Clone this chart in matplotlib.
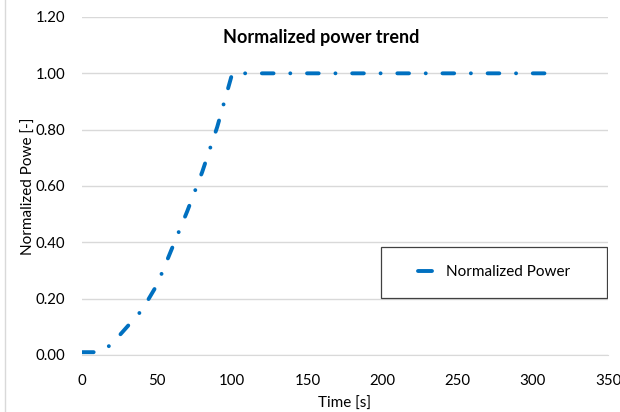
import matplotlib
matplotlib.use("Agg")
import matplotlib.pyplot as plt
from matplotlib.lines import Line2D
from matplotlib.patches import Rectangle

# values
time_s = [0, 5, 10, 15, 20, 30, 40, 50, 60, 70, 80, 90, 100,
          150, 200, 250, 300, 315]
norm_power = [0.01, 0.01, 0.01, 0.02, 0.04, 0.10, 0.16, 0.25, 0.38, 0.51,
              0.65, 0.81, 1.00, 1.00, 1.00, 1.00, 1.00, 1.00]
x_ticks = [0, 50, 100, 150, 200, 250, 300, 350]
y_ticks = [0.0, 0.2, 0.4, 0.6, 0.8, 1.0, 1.2]

BLUE = "#0070C0"
GRID = "#D9D9D9"
TXT = "#404040"

plt.rcParams["font.family"] = ["Lato", "DejaVu Sans"]

fig = plt.figure(figsize=(6.2, 4.12), dpi=100)
ax = fig.add_axes([82 / 620, 1 - 355 / 412, 526 / 620, 338 / 412])

ax.plot(time_s, norm_power, color=BLUE, lw=2.8,
        linestyle=(0, (3, 4.3, 0.01, 4.3)), dash_capstyle="round")

ax.set_xlim(0, 350)
ax.set_ylim(0, 1.2)
ax.set_xticks(x_ticks)
ax.set_yticks(y_ticks)
ax.set_yticklabels([f"{v:.2f}" for v in y_ticks])
ax.tick_params(length=0, labelsize=10.8, labelcolor="black")
ax.tick_params(axis="x", pad=14)
ax.tick_params(axis="y", pad=12)
ax.grid(axis="y", color=GRID, lw=1)
ax.set_axisbelow(True)
for side in ["top", "right", "left"]:
    ax.spines[side].set_visible(False)
ax.spines["bottom"].set_color(GRID)

ax.set_xlabel("Time [s]", fontsize=11, labelpad=6)
ax.set_ylabel("Normalized Powe [-]", fontsize=11, labelpad=0)
ax.text(0.455, 0.94, "Normalized power trend", transform=ax.transAxes,
        ha="center", va="center", fontsize=13, fontweight="bold")

# legend box like excel: centred entry inside a thin frame
ax.add_patch(Rectangle((0.568, 0.169), 0.43, 0.151, transform=ax.transAxes,
                       fill=True, facecolor="white", edgecolor=TXT, lw=0.9, zorder=5))
ax.legend(handles=[Line2D([], [], color=BLUE, lw=2.8, solid_capstyle="round")],
          labels=["Normalized Power"], loc="center",
          bbox_to_anchor=(0.568 + 0.215, 0.169 + 0.0755), frameon=False,
          fontsize=11, handlelength=0.9, handletextpad=0.9)

fig.add_artist(Line2D([5 / 620, 5 / 620], [0, 1], color=GRID, lw=1))

fig.savefig("out.png", dpi=100)
